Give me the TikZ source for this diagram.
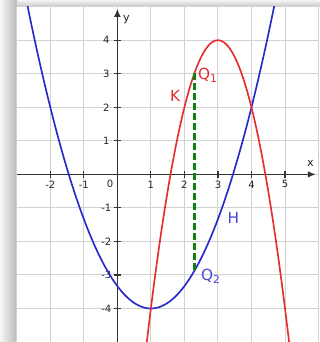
\documentclass[tikz,border=0pt]{standalone}
\usepackage{fontspec}
\setmainfont{DejaVu Sans}
\usepackage{xcolor}
\definecolor{curveH}{RGB}{40,40,205}
\definecolor{curveK}{RGB}{230,45,45}
\definecolor{chord}{RGB}{15,130,15}
\definecolor{gridline}{RGB}{210,210,210}
\usepackage{tikz}
\usetikzlibrary{arrows.meta,positioning}

\begin{document}
\begin{tikzpicture}[
  tick/.style={font=\fontsize{8.5}{9}\selectfont, text=black!85, inner sep=1pt},
  lbl/.style={font=\fontsize{13}{14}\selectfont, inner sep=1pt},
  axis/.style={-{Latex[length=2.4mm,width=2mm]}, line width=1.4pt, black!80},
  fn/.style={line width=1.4pt}
]
  \useasboundingbox (-3.5,-5) rectangle (6.03,5.2);
  % shadow round the frame
  \shade[left color=gray!6, right color=gray!55] (-3.5,-5) rectangle (-3,5.2);
  \shade[top color=gray!8, bottom color=gray!45] (-3,5) rectangle (6.03,5.2);
  \fill[white] (-3,-5) rectangle (6.03,5);
  \draw[gridline, line width=0.8pt] (-3,-5) grid (6,5);

  % axes
  \coordinate (xl) at (-3,0);
  \coordinate (xr) at (5.92,0);
  \coordinate (yb) at (0,-5);
  \coordinate (yt) at (0,4.94);
  \draw[axis] (xl) -- (xr);
  \draw[axis] (yb) -- (yt);
  \node[tick, font=\fontsize{9.5}{10}\selectfont] (xlab) at (5.76,0.33) {x};
  \node[tick, font=\fontsize{9.5}{10}\selectfont] (ylab) at (0.27,4.62) {y};
  \foreach \x in {-2,-1,1,2,3,4,5} {
    \draw[black!80, line width=1pt] (\x,-0.1) -- (\x,0.1);
    \node[tick] (tx\x) at (\x,-0.3) {\x};
  }
  \foreach \y in {-4,-3,-2,-1,1,2,3,4} {
    \draw[black!80, line width=1pt] (-0.1,\y) -- (0.1,\y);
    \node[tick] (ty\y) at (-0.33,\y) {\y};
  }
  \node[tick] (orig) at (-0.22,-0.28) {0};

  % curves
  \begin{scope}
    \clip (-3,-5) rectangle (6,5);
    \draw[fn, curveH, domain=-2.8:4.8, samples=120] plot (\x,{2/3*(\x-1)^2-4});
    \draw[fn, curveK, domain=0.8:5.2, samples=120] plot (\x,{-2*(\x-3)^2+4});
  \end{scope}

  % chord between the curves
  \coordinate (q1) at (2.3,3.02);
  \coordinate (q2) at (2.3,-2.873);
  \draw[chord, line width=2pt, dash pattern=on 5.5pt off 3pt] (q1) -- (q2);

  \node[lbl, curveK] (klab) at (1.72,2.35) {K};
  \node[lbl, curveK] (q1lab) at (2.7,2.95) {Q\textsubscript{1}};
  \node[lbl, curveH!85!white] (hlab) at (3.46,-1.31) {H};
  \node[lbl, curveH!85!white] (q2lab) at (2.79,-3.04) {Q\textsubscript{2}};
\end{tikzpicture}
\end{document}
